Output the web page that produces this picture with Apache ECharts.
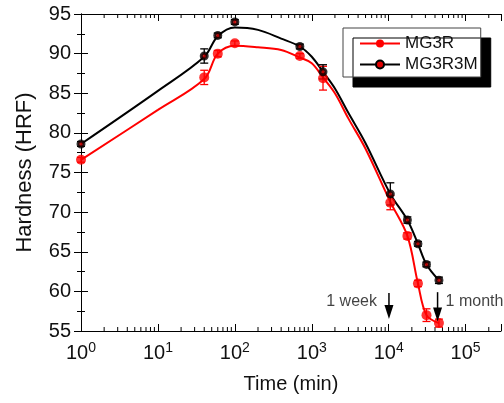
<!DOCTYPE html>
<html><head><meta charset="utf-8">
<script src="https://cdn.jsdelivr.net/npm/echarts@6/dist/echarts.min.js"></script>
<style>html,body{margin:0;padding:0;background:#fff}#c{width:504px;height:403px}</style>
</head><body><div id="c"></div>
<script>
// measured points (time in min)
var times = [1, 40, 60, 100, 700, 1400, 10500, 17500, 24000, 31000, 45000];
var mg3r = [76.6, 87.0, 90.0, 91.3, 89.7, 86.9, 71.2, 67.0, 61.0, 57.0, 56.0];
var mg3rErr = [0.3, 0.9, 0.4, 0.3, 0.3, 1.5, 0.9, 0.4, 0.4, 0.8, 0.5];
var mg3r3m = [78.6, 89.7, 92.3, 94.0, 90.9, 87.7, 72.3, 69.0, 66.0, 63.4, 61.4];
var mg3r3mErr = [0.3, 0.9, 0.3, 0.3, 0.3, 0.9, 1.4, 0.4, 0.3, 0.3, 0.4];
// fitted curves
var curveTimes = [1, 10, 40, 60, 100, 200, 400, 700, 1000, 1400, 2000, 3000, 5000, 10500, 17500, 24000, 31000, 45000];
var mg3rCurve = [76.6, 82.9, 86.8, 90.0, 91.0, 90.8, 90.45, 89.5, 88.8, 87.0, 85.0, 81.8, 78.0, 71.3, 67.0, 61.0, 57.0, 56.0];
var mg3r3mCurve = [78.6, 85.3, 89.6, 92.2, 93.3, 93.0, 91.9, 90.9, 89.6, 87.7, 85.6, 82.5, 78.7, 72.3, 69.0, 66.0, 63.4, 61.4];
// annotations
var arrowTimes = [10080, 43200];
var arrowTop = [59.8, 59.9];
var arrowTip = [56.5, 56.2];
var arrowLabels = ['1 week', '1 month'];
var yTicks = {min: 55, max: 95, step: 5};
var xDecades = [0, 1, 2, 3, 4, 5];

var XMAX = 5.46;
var FONT = 'Liberation Sans, Arial, sans-serif';
function lg(t){ return Math.log10(t); }
function pts(ts, vs){ return ts.map(function(t,i){ return [lg(t), vs[i]]; }); }
function errPts(ts, vs, es){ return ts.map(function(t,i){ return [lg(t), vs[i]-es[i], vs[i]+es[i]]; }); }

var minorPos = [];
xDecades.forEach(function(n){ for (var k=2;k<=9;k++){ var v = lg(k)+n; if (v <= XMAX) minorPos.push([v]); } });

function errRender(color){
  return function(params, api){
    var x = api.value(0);
    var a = api.coord([x, api.value(1)]);
    var b = api.coord([x, api.value(2)]);
    var w = 4;
    var st = {stroke: color, lineWidth: 1.3};
    return {type:'group', children:[
      {type:'line', shape:{x1:a[0],y1:a[1],x2:b[0],y2:b[1]}, style:st},
      {type:'line', shape:{x1:a[0]-w,y1:a[1],x2:a[0]+w,y2:a[1]}, style:st},
      {type:'line', shape:{x1:b[0]-w,y1:b[1],x2:b[0]+w,y2:b[1]}, style:st}
    ]};
  };
}

var option = {
  animation: false,
  textStyle: {fontFamily: FONT},
  grid: {left: 81, right: 2, top: 14, bottom: 72},
  legend: {
    data: ['MG3R', 'MG3R3M'],
    orient: 'vertical', left: 343, top: 28,
    backgroundColor: '#fff', borderColor: '#444', borderWidth: 1,
    shadowColor: '#000', shadowOffsetX: 10, shadowOffsetY: 10, shadowBlur: 0,
    padding: [6, 3, 3, 16], itemGap: 2, itemWidth: 40, itemHeight: 10, itemTextGap: 2,
    textStyle: {fontSize: 17, fontFamily: FONT, color: '#111', lineHeight: 19}
  },
  xAxis: [{
    type: 'value', min: 0, max: XMAX, interval: 1, position: 'bottom',
    name: 'Time (min)', nameLocation: 'middle', nameGap: 43,
    nameTextStyle: {fontSize: 20, color: '#111', fontFamily: FONT},
    axisLine: {lineStyle: {color: '#000', width: 1}},
    axisTick: {inside: true, length: 7, lineStyle: {color: '#000'}},
    splitLine: {show: false},
    axisLabel: {
      margin: 10, color: '#111',
      formatter: function(v){ if (Math.abs(v-Math.round(v))>1e-6) return ''; return '{b|10}{s|'+Math.round(v)+'}'; },
      rich: {b: {fontSize: 20, fontFamily: FONT, color: '#111'}, s: {fontSize: 14, fontFamily: FONT, color: '#111', verticalAlign: 'top', padding: [0,0,10,0]}}
    }
  }, {
    type: 'value', min: 0, max: XMAX, interval: 1, position: 'top',
    axisLine: {lineStyle: {color: '#000', width: 1}},
    axisTick: {inside: true, length: 7, lineStyle: {color: '#000'}},
    axisLabel: {show: false}, splitLine: {show: false}
  }],
  yAxis: [{
    type: 'value', min: yTicks.min, max: yTicks.max, interval: yTicks.step,
    name: 'Hardness (HRF)', nameLocation: 'middle', nameGap: 45,
    nameTextStyle: {fontSize: 22, color: '#111', fontFamily: FONT},
    axisLine: {show: true, lineStyle: {color: '#000', width: 1}},
    axisTick: {show: true, inside: true, length: 7, lineStyle: {color: '#000'}},
    minorTick: {show: true, splitNumber: 2, length: 4, lineStyle: {color: '#000'}},
    splitLine: {show: false},
    axisLabel: {fontSize: 20, color: '#111', margin: 10, fontFamily: FONT}
  }, {
    type: 'value', min: yTicks.min, max: yTicks.max, interval: yTicks.step, position: 'right',
    axisLine: {show: true, lineStyle: {color: '#000', width: 1}},
    axisTick: {show: true, inside: true, length: 7, lineStyle: {color: '#000'}},
    minorTick: {show: true, splitNumber: 2, length: 4, lineStyle: {color: '#000'}},
    splitLine: {show: false}, axisLabel: {show: false}
  }],
  series: [
    {type: 'custom', silent: true, clip: false, data: minorPos, z: 1,
      renderItem: function(params, api){
        var x = api.coord([api.value(0), 55])[0];
        var yb = api.coord([0, 55])[1], yt = api.coord([0, 95])[1];
        var st = {stroke: '#000', lineWidth: 1};
        return {type:'group', children:[
          {type:'line', shape:{x1:x,y1:yb,x2:x,y2:yb-4}, style:st},
          {type:'line', shape:{x1:x,y1:yt,x2:x,y2:yt+4}, style:st}
        ]};
      }},
    {name: 'MG3R', type: 'line', data: pts(curveTimes, mg3rCurve), smooth: 0.35,
      symbol: 'circle', symbolSize: 9, showSymbol: false, color: '#ff0000',
      lineStyle: {color: '#ff0000', width: 2}, itemStyle: {color: '#ff0000'}, z: 3},
    {name: 'MG3R3M', type: 'line', data: pts(curveTimes, mg3r3mCurve), smooth: 0.35,
      symbol: 'circle', symbolSize: 6, showSymbol: false, color: '#000',
      lineStyle: {color: '#000', width: 2}, itemStyle: {color: '#e00000', borderColor: '#000', borderWidth: 3}, z: 3},
    {name: 'MG3Rerr', type: 'custom', data: errPts(times, mg3r, mg3rErr), renderItem: errRender('#ff0000'), z: 4, silent: true},
    {name: 'MG3R3Merr', type: 'custom', data: errPts(times, mg3r3m, mg3r3mErr), renderItem: errRender('#000'), z: 4, silent: true},
    {name: 'MG3Rpts', type: 'scatter', data: pts(times, mg3r), symbol: 'circle', symbolSize: 10,
      itemStyle: {color: '#ff0000'}, z: 5, silent: true},
    {name: 'MG3R3Mpts', type: 'scatter', data: pts(times, mg3r3m), symbol: 'circle', symbolSize: 6,
      itemStyle: {color: '#e00000', borderColor: '#000', borderWidth: 3}, z: 5, silent: true},
    {type: 'custom', silent: true, clip: false, z: 6,
      data: arrowTimes.map(function(t,i){ return [lg(t), arrowTop[i], arrowTip[i]]; }),
      renderItem: function(params, api){
        var a = api.coord([api.value(0), api.value(1)]);
        var b = api.coord([api.value(0), api.value(2)]);
        var h = 14, w = 4.5;
        return {type:'group', children:[
          {type:'line', shape:{x1:a[0],y1:a[1],x2:b[0],y2:b[1]-h+2}, style:{stroke:'#000', lineWidth:1.5}},
          {type:'polygon', shape:{points:[[b[0]-w,b[1]-h],[b[0]+w,b[1]-h],[b[0],b[1]]]}, style:{fill:'#000'}}
        ]};
      }},
    {type: 'scatter', silent: true, symbolSize: 0, z: 6,
      data: [{value: [lg(arrowTimes[0]), 58.7], label: {show: true, position: 'left', distance: 12, formatter: arrowLabels[0]}},
             {value: [lg(arrowTimes[1]), 58.7], label: {show: true, position: 'right', distance: 8, formatter: arrowLabels[1]}}],
      label: {fontSize: 16, color: '#111', fontFamily: FONT}}
  ]
};
var chart = echarts.init(document.getElementById('c'));
chart.setOption(option);
</script></body></html>
